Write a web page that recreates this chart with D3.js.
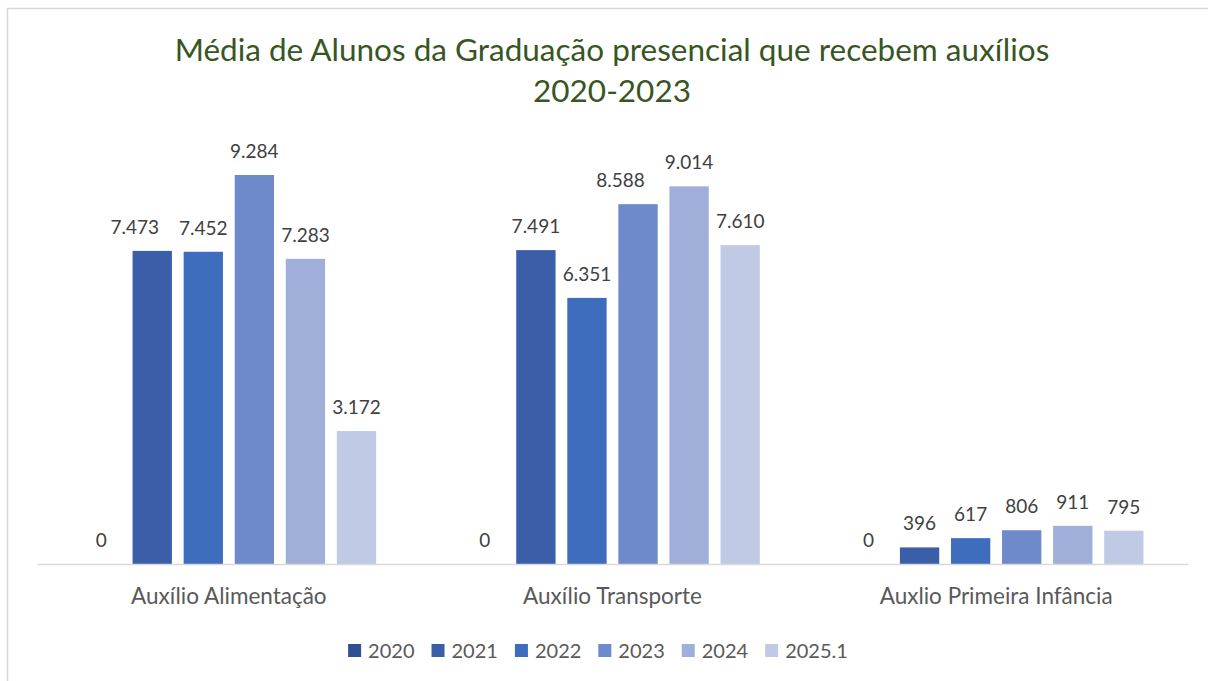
<!DOCTYPE html>
<html>
<head>
<meta charset="utf-8">
<script src="https://cdn.jsdelivr.net/npm/d3@7"></script>
<style>
  body { margin: 0; background: #fff; }
  svg { display: block; font-family: Lato, "Open Sans", sans-serif; }
</style>
</head>
<body>
<div id="chart"></div>
<script>
const categories = ["Auxílio Alimentação", "Auxílio Transporte", "Auxlio Primeira Infância"];
const years = ["2020", "2021", "2022", "2023", "2024", "2025.1"];
const values2020 = [0, 0, 0];
const values2021 = [7473, 7491, 396];
const values2022 = [7452, 6351, 617];
const values2023 = [9284, 8588, 806];
const values2024 = [7283, 9014, 911];
const values2025 = [3172, 7610, 795];
const colors = ["#2f5192", "#3a5ea8", "#3e6dbe", "#6e8acb", "#a0afda", "#c0cae5"];
const titleLines = ["Média de Alunos da Graduação presencial que recebem auxílios", "2020-2023"];

const seriesValues = [values2020, values2021, values2022, values2023, values2024, values2025];

const W = 1208, H = 681;
const margin = {top: 145, right: 20, bottom: 117, left: 37};
const width = 1188 - margin.left, height = 564 - margin.top;

const svg = d3.select("#chart").append("svg")
  .attr("width", W).attr("height", H);

// outer frame
svg.append("rect")
  .attr("x", 7.5).attr("y", 8.5)
  .attr("width", W + 20).attr("height", H + 20)
  .attr("fill", "none").attr("stroke", "#d9d9d9").attr("stroke-width", 1.5);

// title
svg.append("text")
  .attr("text-anchor", "middle")
  .attr("fill", "#375623")
  .attr("font-size", 31.5)
  .selectAll("tspan").data(titleLines).join("tspan")
  .attr("x", 612).attr("y", (d, i) => 61 + i * 41)
  .text(d => d);

const g = svg.append("g").attr("transform", `translate(${margin.left},${margin.top})`);

const x0 = d3.scaleBand().domain(categories).range([0, width]).paddingInner(0.232).paddingOuter(0.116);
const x1 = d3.scaleBand().domain(years).range([0, x0.bandwidth()]).paddingInner(0.23);
const y = d3.scaleLinear().domain([0, 10000]).range([height, 0]);

const fmt = d3.formatLocale({decimal: ",", thousands: ".", grouping: [3], currency: ["R$", ""]}).format(",d");

const groups = g.selectAll(".cat").data(categories).join("g")
  .attr("transform", d => `translate(${x0(d)},0)`);

years.forEach((yr, si) => {
  groups.append("rect")
    .attr("x", x1(yr))
    .attr("width", x1.bandwidth())
    .attr("y", (d, ci) => y(seriesValues[si][ci]))
    .attr("height", (d, ci) => height - y(seriesValues[si][ci]))
    .attr("fill", colors[si]);
});
years.forEach((yr, si) => {
  groups.append("text")
    .attr("class", "vlabel s" + si)
    .attr("x", x1(yr) + x1.bandwidth() / 2)
    .attr("y", (d, ci) => y(seriesValues[si][ci]) - 17)
    .attr("text-anchor", "middle")
    .attr("font-size", 19)
    .attr("fill", "#404040")
    .text((d, ci) => fmt(seriesValues[si][ci]));
});

// simple collision avoidance: push a label left if it overlaps its right neighbour
groups.each(function () {
  const labels = d3.select(this).selectAll(".vlabel").nodes();
  for (let i = labels.length - 2; i >= 0; i--) {
    const a = labels[i].getBBox(), b = labels[i + 1].getBBox();
    const overlapX = a.x + a.width + 6 - b.x;
    const overlapY = Math.abs(a.y - b.y) < a.height;
    if (overlapX > 0 && overlapY) {
      d3.select(labels[i]).attr("x", +labels[i].getAttribute("x") - overlapX - 14);
    }
  }
});

// x axis
const xAxis = g.append("g").attr("transform", `translate(0,${height})`)
  .call(d3.axisBottom(x0).tickSize(0).tickPadding(0));
xAxis.select(".domain").attr("stroke", "#d9d9d9").attr("stroke-width", 1.5);
xAxis.selectAll("text")
  .attr("font-size", 22.5)
  .attr("fill", "#595959")
  .attr("font-family", "Lato, 'Open Sans', sans-serif")
  .attr("dy", 0).attr("y", 40);

// legend
const legend = svg.append("g").attr("font-size", 20).attr("fill", "#595959");
const items = legend.selectAll("g").data(years).join("g");
items.append("rect").attr("width", 13).attr("height", 13).attr("y", 644)
  .attr("fill", (d, i) => colors[i]);
items.append("text").attr("x", 20).attr("y", 658).text(d => d);
let pos = 0;
const offsets = [];
items.each(function (d) {
  offsets.push(pos);
  pos += d3.select(this).select("text").node().getComputedTextLength() + 20 + 17;
});
const total = pos - 17;
const startX = 598 - total / 2;
items.attr("transform", (d, i) => `translate(${startX + offsets[i]},0)`);
</script>
</body>
</html>
